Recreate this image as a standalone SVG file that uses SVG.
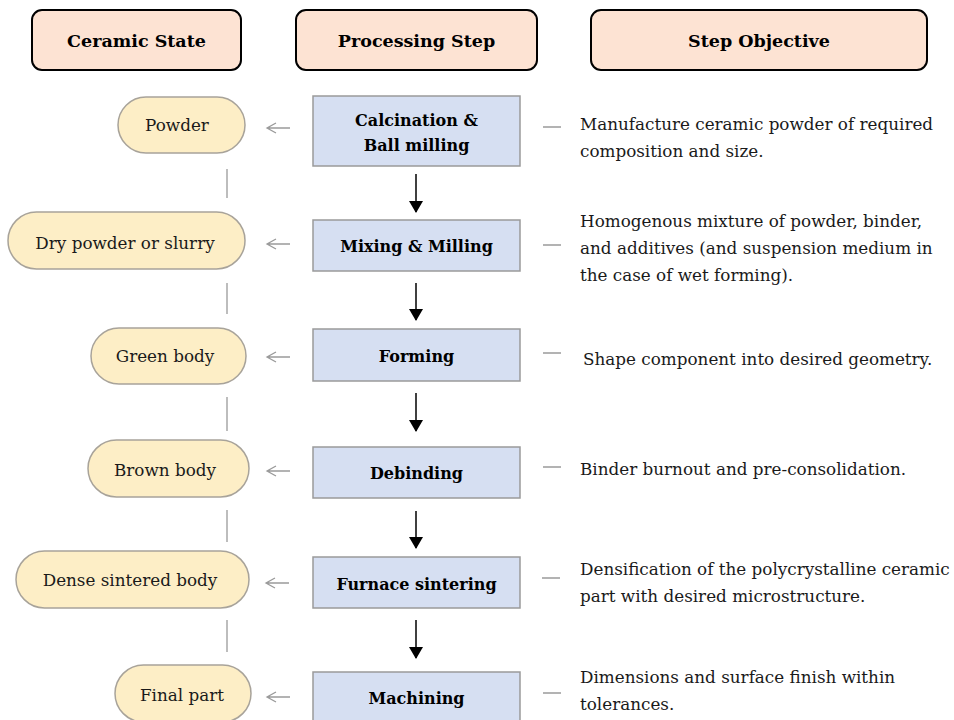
<svg xmlns="http://www.w3.org/2000/svg" width="954" height="720" viewBox="0 0 954 720">
<defs>
<marker id="blk" viewBox="0 0 12 14" refX="11" refY="7" markerWidth="12" markerHeight="14" markerUnits="userSpaceOnUse" orient="auto"><path d="M0,0 L12,7 L0,14 Z" fill="#000"/></marker>
</defs>
<style>
text{font-family:"DejaVu Serif","Liberation Serif",serif;font-size:16.8px;fill:#1a1a1a}
.b{font-weight:bold;fill:#000;font-size:16px}
.h{font-weight:bold;fill:#000;font-size:17.5px}
.c{text-anchor:middle}
.hdr{fill:#fde3d3;stroke:#000;stroke-width:2}
.proc{fill:#d6dff2;stroke:#9a9a9a;stroke-width:1.5}
.pill{fill:#fdeec6;stroke:#a8a39a;stroke-width:1.5}
.g{stroke:#9a9a9a;stroke-width:1.3;fill:none}
.k{stroke:#000;stroke-width:1.5;fill:none}
</style>
<rect width="954" height="720" fill="#fff"/>
<g id="hdr-state"><rect class="hdr" x="32" y="10" width="209" height="60" rx="10"/><text class="h c" x="136.5" y="47">Ceramic State</text></g>
<g id="hdr-step"><rect class="hdr" x="296" y="10" width="241" height="60" rx="10"/><text class="h c" x="416.5" y="47">Processing Step</text></g>
<g id="hdr-obj"><rect class="hdr" x="591" y="10" width="336" height="60" rx="10"/><text class="h c" x="759" y="47">Step Objective</text></g>

<g id="step1"><rect class="proc" x="313" y="96" width="207" height="70"/><text class="b c" x="416.5" y="126">Calcination &amp;</text><text class="b c" x="416.5" y="151">Ball milling</text></g>
<g id="step2"><rect class="proc" x="313" y="220" width="207" height="51"/><text class="b c" x="416.5" y="252">Mixing &amp; Milling</text></g>
<g id="step3"><rect class="proc" x="313" y="329" width="207" height="52"/><text class="b c" x="416.5" y="362">Forming</text></g>
<g id="step4"><rect class="proc" x="313" y="447" width="207" height="51"/><text class="b c" x="416.5" y="479">Debinding</text></g>
<g id="step5"><rect class="proc" x="313" y="557" width="207" height="51"/><text class="b c" x="416.5" y="590">Furnace sintering</text></g>
<g id="step6"><rect class="proc" x="313" y="672" width="207" height="52"/><text class="b c" x="416.5" y="704">Machining</text></g>

<g id="state1"><rect class="pill" x="118" y="97" width="127" height="56" rx="28"/><text class="c" x="177" y="131">Powder</text></g>
<g id="state2"><rect class="pill" x="8" y="212" width="237" height="57" rx="28.5"/><text class="c" x="125" y="249">Dry powder or slurry</text></g>
<g id="state3"><rect class="pill" x="91" y="328" width="155" height="56" rx="28"/><text class="c" x="165" y="362">Green body</text></g>
<g id="state4"><rect class="pill" x="88" y="440" width="161" height="57" rx="28.5"/><text class="c" x="165" y="476">Brown body</text></g>
<g id="state5"><rect class="pill" x="16" y="551" width="233" height="57" rx="28.5"/><text class="c" x="130" y="586">Dense sintered body</text></g>
<g id="state6"><rect class="pill" x="115" y="665" width="136" height="57" rx="28.5"/><text class="c" x="182" y="701">Final part</text></g>

<g id="obj1"><text x="580" y="130">Manufacture ceramic powder of required</text><text x="580" y="157">composition and size.</text></g>
<g id="obj2"><text x="580" y="227">Homogenous mixture of powder, binder,</text><text x="580" y="254">and additives (and suspension medium in</text><text x="580" y="281">the case of wet forming).</text></g>
<g id="obj3"><text x="583" y="365">Shape component into desired geometry.</text></g>
<g id="obj4"><text x="580" y="475">Binder burnout and pre-consolidation.</text></g>
<g id="obj5"><text x="580" y="575">Densification of the polycrystalline ceramic</text><text x="580" y="602">part with desired microstructure.</text></g>
<g id="obj6"><text x="580" y="683">Dimensions and surface finish within</text><text x="580" y="710">tolerances.</text></g>

<g id="connectors">
<path class="k" d="M416,174 V212" marker-end="url(#blk)"/>
<path class="k" d="M416,283 V320" marker-end="url(#blk)"/>
<path class="k" d="M416,393 V431" marker-end="url(#blk)"/>
<path class="k" d="M416,511 V548" marker-end="url(#blk)"/>
<path class="k" d="M416,620 V658" marker-end="url(#blk)"/>
<path class="g" d="M290,128 H267 M276,123 L267,128 L276,133"/>
<path class="g" d="M290,244 H267 M276,239 L267,244 L276,249"/>
<path class="g" d="M290,357 H267 M276,352 L267,357 L276,362"/>
<path class="g" d="M290,471 H267 M276,466 L267,471 L276,476"/>
<path class="g" d="M289,583 H266 M275,578 L266,583 L275,588"/>
<path class="g" d="M290,697 H267 M276,692 L267,697 L276,702"/>
<path class="g" d="M227,169 V198 M227,283 V314 M227,397 V431 M227,510 V542 M227,620 V652"/>
<path class="g" d="M543,127 H561 M543,245 H561 M543,353 H561 M543,467 H561 M542,578 H560 M543,693 H561"/>
</g>
</svg>
